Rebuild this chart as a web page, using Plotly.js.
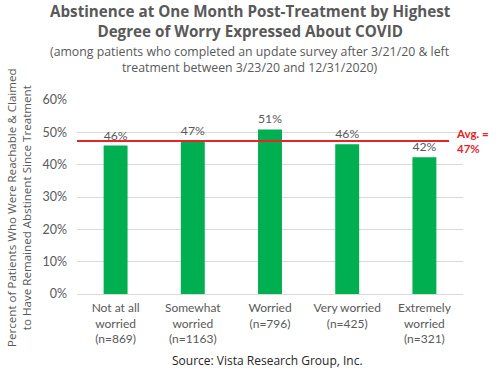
<!DOCTYPE html>
<html><head><meta charset="utf-8">
<script src="https://cdn.plot.ly/plotly-3.0.1.min.js"></script>
<style>html,body{margin:0;padding:0;background:#fff}#chart{width:500px;height:372px}</style>
</head><body><div id="chart"></div>
<script>
const categories = ["Not at all<br>worried<br>(n=869)", "Somewhat<br>worried<br>(n=1163)", "Worried<br>(n=796)", "Very worried<br>(n=425)", "Extremely<br>worried<br>(n=321)"];
const values = [45.9, 47.2, 50.9, 46.3, 42.3];
const average = 47.3;
const yTicks = [0, 10, 20, 30, 40, 50, 60];
const yTickLabels = ["0%", "10%", "20%", "30%", "40%", "50%", "60%"];

const gray = "#595959";
const lato = "Lato, 'Open Sans', sans-serif";

const trace = {
  type: "bar",
  x: categories,
  y: values,
  marker: {color: "#00b050"},
  width: 0.31,
  text: values.map(v => Math.round(v) + "%"),
  textposition: "outside",
  textfont: {family: lato, size: 12.5, color: gray},
  cliponaxis: false,
  hoverinfo: "skip"
};

const layout = {
  width: 500, height: 372,
  margin: {l: 77, r: 37, t: 100, b: 78},
  paper_bgcolor: "#fff", plot_bgcolor: "#fff",
  showlegend: false,
  xaxis: {tickfont: {family: lato, size: 12, color: gray}, showgrid: false, ticks: "",
          showline: false, fixedrange: true, ticklabelstandoff: 5},
  yaxis: {range: [0, 60], tickvals: yTicks, ticktext: yTickLabels,
          tickfont: {family: lato, size: 12.5, color: gray},
          gridcolor: "#d9d9d9", zeroline: true, zerolinecolor: "#d9d9d9", zerolinewidth: 1,
          showline: false, ticks: "", ticklen: 0, fixedrange: true, ticklabelstandoff: 9},
  shapes: [{type: "line", xref: "paper", x0: 0, x1: 0.964, yref: "y", y0: average, y1: average,
            line: {color: "#e8232a", width: 2}}],
  annotations: [
    {xref: "paper", yref: "y", x: (454 - 77) / 386, y: average, xanchor: "left", yanchor: "middle",
     text: "<b>Avg. =<br>" + Math.round(average) + "%</b>", align: "left", showarrow: false,
     font: {family: lato, size: 11.5, color: "#e8232a"}},
    {xref: "paper", yref: "paper", x: (19 - 77) / 386, y: (294 - 208) / 194, xanchor: "center", yanchor: "middle",
     textangle: -90, showarrow: false,
     text: "Percent of Patients Who Were Reachable & Claimed<br>to Have Remained Abstinent Since Treatment",
     font: {family: "'Open Sans', sans-serif", size: 11.6, color: gray}},
    {xref: "paper", yref: "paper", x: (250 - 77) / 386, y: (372 - 78 - 21) / 194, yanchor: "middle",
     xanchor: "center", showarrow: false,
     text: "<b>Abstinence at One Month Post-Treatment by Highest<br>Degree of Worry Expressed About COVID</b>",
     font: {family: "'Open Sans', sans-serif", size: 15.2, color: gray}},
    {xref: "paper", yref: "paper", x: (250 - 77) / 386, y: (294 - 59) / 194, yanchor: "middle",
     xanchor: "center", showarrow: false,
     text: "(among patients who completed an update survey after 3/21/20 & left<br>treatment between 3/23/20 and 12/31/2020)",
     font: {family: "'Open Sans', sans-serif", size: 12.3, color: gray}},
    {xref: "paper", yref: "paper", x: (267 - 77) / 386, y: (294 - 360) / 194, yanchor: "middle",
     xanchor: "center", showarrow: false,
     text: "Source: Vista Research Group, Inc.",
     font: {family: "'Open Sans', sans-serif", size: 12, color: "#262626"}}
  ]
};

Plotly.newPlot("chart", [trace], layout, {displayModeBar: false, staticPlot: true});
</script></body></html>
